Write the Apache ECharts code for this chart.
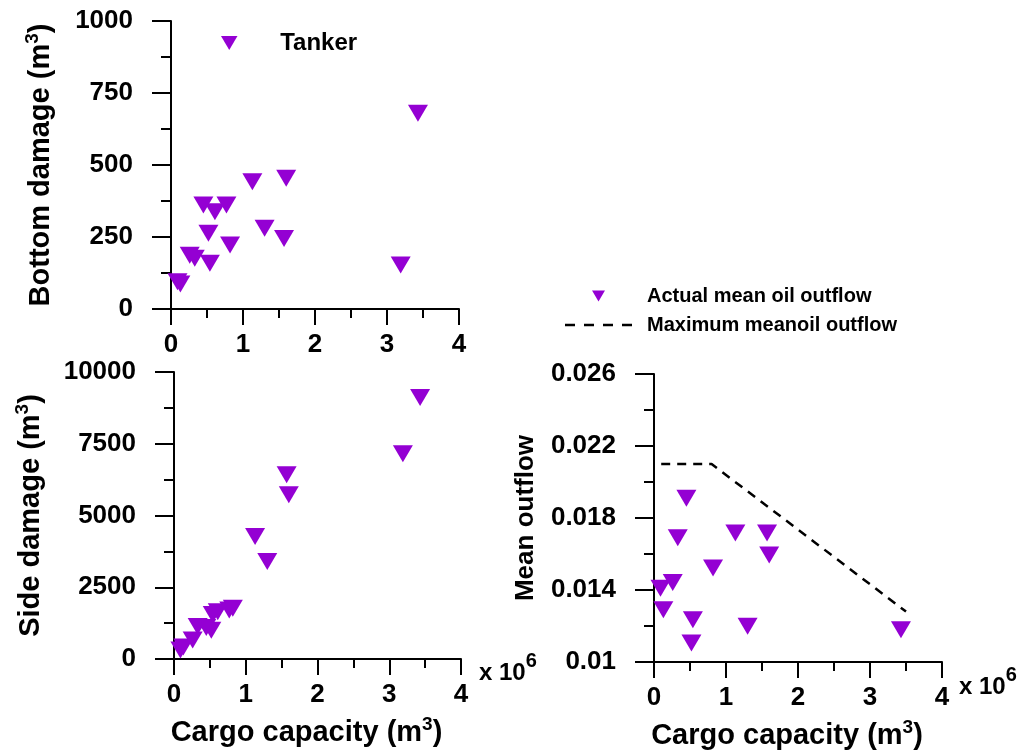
<!DOCTYPE html>
<html>
<head>
<meta charset="utf-8">
<title>Tanker damage and oil outflow</title>
<script src="https://cdn.jsdelivr.net/npm/echarts@6/dist/echarts.min.js"></script>
<style>
  html, body { margin: 0; padding: 0; background: #fff; }
  #chart { width: 1028px; height: 754px; }
</style>
</head>
<body>
<div id="chart"></div>
<script>
// cargo capacity of each tanker, in units of 10^6 m3
const capacity = [0.09, 0.13, 0.26, 0.33, 0.45, 0.52, 0.54, 0.61, 0.77, 0.82, 1.13, 1.30, 1.60, 1.57, 3.19, 3.43];
// bottom damage (m3), same order as capacity
const bottomDamage = [95, 87, 187, 176, 361, 263, 159, 338, 361, 222, 442, 280, 454, 245, 153, 680];
// side damage (m3), same order as capacity
const sideDamage = [314, 420, 663, 1130, 1100, 1000, 1550, 1650, 1710, 1770, 4267, 3395, 5721, 6418, 7150, 9114];

// mean outflow panel (only the visible points)
const outflowCapacity = [0.09, 0.13, 0.26, 0.33, 0.45, 0.52, 0.54, 0.82, 1.13, 1.30, 1.57, 1.60, 3.43];
const meanOutflow = [0.0141, 0.0129, 0.01442, 0.0169, 0.0191, 0.01105, 0.01235, 0.01522, 0.01716, 0.01198, 0.01716, 0.01595, 0.01179];

// maximum mean outflow (dashed)
const maxCapacity = [0.1, 0.8, 3.5];
const maxOutflow = [0.021, 0.021, 0.0128];

// tick labels of the outflow axis
const outflowTicks = ['0.01', '0.014', '0.018', '0.022', '0.026'];

const FONT = "'Liberation Sans', Arial, sans-serif";
const PURPLE = '#9400D3';
const TRI = 'path://M0,0 L20,0 L10,17 Z';
// legend sample of the dashed line: four dashes
const DASH_ICON = 'path://M0,0 H10 V2.5 H0 Z M19,0 H29 V2.5 H19 Z M38,0 H48 V2.5 H38 Z M57,0 H67 V2.5 H57 Z';

const pairs = (xs, ys) => xs.map((x, i) => [x, ys[i]]);

/**
 * 上标标题用的富文本样式
 */
const titleRich = (size) => ({
  t: { fontSize: size, fontWeight: 'bold', fontFamily: FONT, color: '#000', lineHeight: 32, verticalAlign: 'bottom' },
  s: { fontSize: 19, fontWeight: 'bold', fontFamily: FONT, color: '#000', lineHeight: 18, verticalAlign: 'top' },
});

const labelStyle = { color: '#000', fontSize: 26, fontWeight: 'bold', fontFamily: FONT, formatter: (v) => String(v) };
const lineStyle = { color: '#000', width: 2 };

const xAxisBase = (gridIndex) => ({
  type: 'value',
  gridIndex,
  min: 0,
  max: 4,
  interval: 1,
  axisLine: { onZero: false, lineStyle },
  axisTick: { length: 16, lineStyle },
  minorTick: { show: true, splitNumber: 2, length: 9, lineStyle },
  splitLine: { show: false },
  axisLabel: { ...labelStyle, margin: 23 },
  nameMoveOverlap: false,
});

const yAxisBase = (gridIndex, max, interval) => ({
  type: 'value',
  gridIndex,
  position: 'left',
  offset: 0,
  min: 0,
  max,
  interval,
  axisLine: { onZero: false, lineStyle },
  axisTick: { length: 19, lineStyle },
  minorTick: { show: true, splitNumber: 2, length: 10, lineStyle },
  splitLine: { show: false },
  axisLabel: { ...labelStyle, margin: 38 },
  nameLocation: 'middle',
  nameRotate: 90,
  nameMoveOverlap: false,
});

const cargoName = {
  name: '{t|Cargo capacity (m}{s|3}{t|)}',
  nameLocation: 'middle',
  nameGap: 56,
  nameTextStyle: { padding: [0, 22, 0, 0], rich: titleRich(29) },
};

const superText = (text) => ({
  text,
  rich: {
    a: { fontSize: 24, fontWeight: 'bold', fontFamily: FONT, fill: '#000', lineHeight: 34, verticalAlign: 'bottom' },
    b: { fontSize: 20, fontWeight: 'bold', fontFamily: FONT, fill: '#000', lineHeight: 20, verticalAlign: 'top' },
  },
});

const chart = echarts.init(document.getElementById('chart'), null, { renderer: 'canvas' });

const triStyle = { color: PURPLE, opacity: 1 };

const option = {
  animation: false,
  backgroundColor: '#fff',
  textStyle: { fontFamily: FONT },
  grid: [
    { left: 171, top: 21, width: 288, height: 288, outerBoundsMode: 'none', containLabel: false },
    { left: 174, top: 372, width: 287, height: 287, outerBoundsMode: 'none', containLabel: false },
    { left: 654, top: 374, width: 288, height: 288, outerBoundsMode: 'none', containLabel: false },
  ],
  xAxis: [
    xAxisBase(0),
    { ...xAxisBase(1), ...cargoName },
    { ...xAxisBase(2), ...cargoName },
  ],
  yAxis: [
    {
      ...yAxisBase(0, 1000, 250),
      name: '{t|Bottom damage (m}{s|3}{t|)}',
      nameGap: 116,
      nameTextStyle: { rich: titleRich(29) },
    },
    {
      ...yAxisBase(1, 10000, 2500),
      name: '{t|Side damage (m}{s|3}{t|)}',
      nameGap: 129,
      nameTextStyle: { rich: titleRich(29) },
    },
    // data scale of the outflow panel (hidden)
    { type: 'value', gridIndex: 2, position: 'left', offset: 0, min: 0.01, max: 0.026, show: false },
    // visible ticks of the outflow panel, counted in steps of 0.001 above 0.01
    {
      ...yAxisBase(2, 16, 4),
      axisLabel: {
        ...labelStyle,
        margin: 38,
        formatter: (v) => outflowTicks[v / 4],
      },
      name: '{t|Mean outflow}',
      nameGap: 115,
      nameTextStyle: { rich: titleRich(26) },
    },
  ],
  legend: [
    {
      data: ['Tanker'],
      left: 221,
      top: 31,
      padding: 0,
      itemWidth: 70,
      itemHeight: 14,
      selectedMode: false,
      textStyle: { color: '#000', fontSize: 24, fontWeight: 'bold', fontFamily: FONT, padding: [0, 0, 0, 11] },
    },
    {
      data: [
        'Actual mean oil outflow',
        { name: 'Maximum meanoil outflow', icon: DASH_ICON, itemStyle: { color: '#000' } },
      ],
      orient: 'vertical',
      left: 565,
      top: 286,
      padding: 0,
      itemWidth: 67,
      itemHeight: 11,
      itemGap: 9,
      selectedMode: false,
      textStyle: { color: '#000', fontSize: 20, fontWeight: 'bold', fontFamily: FONT, padding: [0, 0, 0, 10] },
    },
  ],
  graphic: [
    { type: 'text', left: 479, top: 651, style: superText('{a|x 10}{b|6}') },
    { type: 'text', left: 959, top: 665, style: superText('{a|x 10}{b|6}') },
  ],
  series: [
    {
      name: 'Tanker',
      type: 'scatter',
      xAxisIndex: 0,
      yAxisIndex: 0,
      symbol: TRI,
      symbolSize: [20, 17],
      itemStyle: triStyle,
      data: pairs(capacity, bottomDamage),
    },
    {
      name: 'Tanker',
      type: 'scatter',
      xAxisIndex: 1,
      yAxisIndex: 1,
      symbol: TRI,
      symbolSize: [20, 17],
      itemStyle: triStyle,
      data: pairs(capacity, sideDamage),
    },
    {
      name: 'Actual mean oil outflow',
      type: 'scatter',
      xAxisIndex: 2,
      yAxisIndex: 2,
      symbol: TRI,
      symbolSize: [20, 17],
      itemStyle: triStyle,
      data: pairs(outflowCapacity, meanOutflow),
    },
    {
      name: 'Maximum meanoil outflow',
      type: 'line',
      xAxisIndex: 2,
      yAxisIndex: 2,
      symbol: 'none',
      lineStyle: { color: '#000', width: 2.5, type: [9, 7] },
      itemStyle: { color: '#000' },
      data: pairs(maxCapacity, maxOutflow),
    },
  ],
};

chart.setOption(option);
</script>
</body>
</html>
